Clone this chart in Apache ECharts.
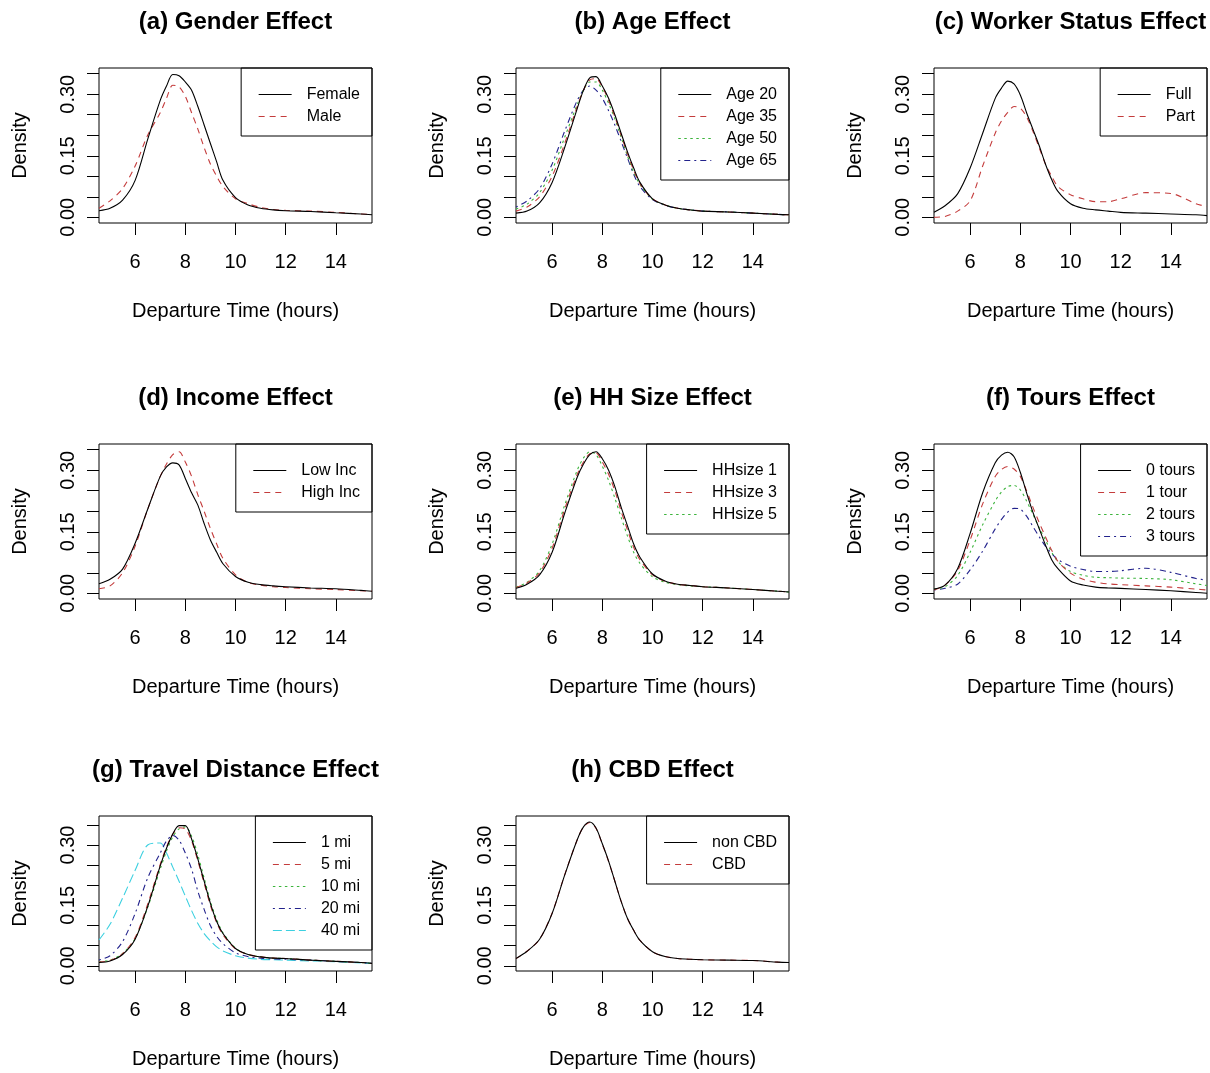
<!DOCTYPE html>
<html>
<head>
<meta charset="utf-8">
<script src="https://cdn.jsdelivr.net/npm/echarts@6/dist/echarts.min.js"></script>
<style>
html,body{margin:0;padding:0;background:#fff;}
#chart{width:1210px;height:1073px;}
</style>
</head>
<body>
<div id="chart"></div>
<script>
// ---------- data ----------
const hours = [4.56, 5, 5.5, 6, 6.5, 7, 7.25, 7.5, 7.75, 8, 8.25, 8.5, 8.75, 9, 9.25, 9.5, 10, 10.5, 11, 11.5, 12, 13, 14, 15, 15.44];
const hourTicks = [6, 8, 10, 12, 14];
const densityTicks = [0, 0.05, 0.10, 0.15, 0.20, 0.25, 0.30, 0.35];
const densityLabels = [0, 0.15, 0.30];
const panelTitles = ['(a) Gender Effect', '(b) Age Effect', '(c) Worker Status Effect', '(d) Income Effect', '(e) HH Size Effect', '(f) Tours Effect', '(g) Travel Distance Effect', '(h) CBD Effect'];
const xTitle = 'Departure Time (hours)';
const yTitle = 'Density';

// (a) gender
const genderNames = ['Female', 'Male'];
const female = [.016,.022,.042,.09,.19,.285,.32,.348,.345,.33,.31,.27,.225,.18,.135,.09,.048,.03,.022,.018,.016,.014,.011,.008,.006];
const male   = [.022,.04,.07,.125,.20,.255,.29,.322,.318,.295,.255,.215,.17,.13,.10,.075,.045,.033,.024,.019,.017,.015,.012,.008,.007];
// (b) age
const ageNames = ['Age 20', 'Age 35', 'Age 50', 'Age 65'];
const age20 = [.010,.015,.035,.085,.17,.265,.31,.34,.343,.32,.29,.25,.205,.16,.12,.085,.045,.03,.022,.018,.015,.013,.010,.007,.006];
const age35 = [.015,.025,.05,.10,.18,.27,.31,.335,.338,.318,.285,.245,.20,.155,.115,.082,.045,.03,.022,.018,.015,.013,.010,.007,.006];
const age50 = [.020,.032,.06,.115,.195,.275,.31,.33,.33,.31,.278,.24,.195,.15,.11,.08,.044,.03,.022,.018,.015,.013,.010,.007,.006];
const age65 = [.025,.04,.07,.13,.21,.285,.31,.32,.31,.29,.26,.225,.185,.145,.105,.075,.043,.029,.022,.018,.015,.013,.010,.007,.006];
// (c) worker status
const workerNames = ['Full', 'Part'];
const fullTime = [.012,.028,.057,.12,.205,.29,.315,.332,.325,.298,.255,.215,.175,.13,.092,.063,.033,.022,.018,.015,.012,.010,.008,.006,.004];
const partTime = [0,.002,.015,.04,.125,.205,.235,.256,.27,.266,.245,.21,.17,.13,.10,.075,.055,.045,.038,.038,.045,.06,.058,.033,.026];
// (d) income
const incomeNames = ['Low Inc', 'High Inc'];
const lowInc  = [.023,.034,.059,.122,.205,.285,.308,.318,.313,.28,.245,.215,.17,.13,.10,.072,.041,.027,.021,.018,.016,.013,.011,.007,.005];
const highInc = [.011,.018,.05,.115,.205,.285,.315,.338,.345,.32,.285,.24,.20,.158,.12,.085,.045,.026,.02,.016,.014,.011,.009,.006,.005];
// (e) household size
const hhNames = ['HHsize 1', 'HHsize 3', 'HHsize 5'];
const hh1 = [.012,.022,.045,.10,.195,.283,.315,.338,.345,.328,.30,.26,.21,.165,.12,.088,.047,.03,.022,.019,.016,.013,.009,.005,.003];
const hh3 = [.014,.025,.05,.11,.205,.29,.32,.34,.342,.32,.29,.25,.20,.155,.112,.082,.045,.029,.022,.019,.016,.013,.009,.005,.003];
const hh5 = [.015,.027,.055,.12,.215,.30,.33,.345,.338,.31,.275,.232,.185,.14,.10,.073,.04,.027,.021,.018,.016,.013,.009,.005,.003];
// (f) tours
const tourNames = ['0 tours', '1 tour', '2 tours', '3 tours'];
const tours0 = [.010,.020,.06,.146,.245,.318,.337,.344,.333,.295,.245,.198,.158,.118,.082,.06,.03,.02,.015,.013,.012,.009,.006,.002,0];
const tours1 = [.008,.020,.055,.13,.218,.285,.302,.309,.303,.285,.25,.21,.173,.138,.105,.078,.049,.034,.027,.023,.021,.018,.015,.010,.008];
const tours2 = [.010,.016,.043,.10,.167,.225,.247,.26,.263,.252,.225,.193,.16,.13,.10,.077,.053,.044,.039,.038,.037,.036,.033,.023,.019];
const tours3 = [.008,.012,.022,.057,.103,.157,.18,.198,.207,.205,.188,.163,.138,.115,.097,.082,.066,.058,.053,.053,.055,.061,.051,.036,.032];
// (g) travel distance
const distNames = ['1 mi', '5 mi', '10 mi', '20 mi', '40 mi'];
const dist1  = [.008,.012,.028,.066,.147,.248,.292,.327,.348,.348,.315,.265,.21,.155,.11,.08,.043,.028,.022,.019,.018,.014,.011,.008,.006];
const dist5  = [.009,.013,.03,.07,.153,.252,.295,.327,.343,.34,.31,.26,.205,.15,.107,.077,.042,.028,.022,.019,.018,.014,.011,.008,.006];
const dist10 = [.010,.014,.03,.068,.145,.24,.285,.32,.34,.345,.322,.275,.218,.16,.115,.082,.044,.028,.022,.019,.018,.014,.011,.008,.006];
const dist20 = [.014,.025,.06,.13,.218,.28,.31,.324,.312,.28,.24,.185,.14,.10,.073,.055,.032,.023,.019,.017,.016,.014,.011,.008,.006];
const dist40 = [.064,.103,.168,.237,.30,.305,.28,.245,.21,.173,.137,.105,.08,.062,.047,.037,.025,.019,.016,.015,.014,.012,.010,.007,.006];
// (h) CBD
const cbdNames = ['non CBD', 'CBD'];
const nonCbd = [.018,.036,.066,.13,.225,.313,.345,.357,.342,.303,.26,.21,.16,.118,.088,.063,.035,.023,.018,.016,.015,.014,.013,.009,.008];
const cbd    = [.018,.036,.066,.131,.226,.313,.345,.356,.341,.302,.259,.21,.16,.118,.088,.063,.035,.023,.018,.016,.015,.014,.013,.009,.008];

// ---------- build ----------
const panelNames = [genderNames, ageNames, workerNames, incomeNames, hhNames, tourNames, distNames, cbdNames];
const panelValues = [[female, male], [age20, age35, age50, age65], [fullTime, partTime], [lowInc, highInc], [hh1, hh3, hh5], [tours0, tours1, tours2, tours3], [dist1, dist5, dist10, dist20, dist40], [nonCbd, cbd]];

const FONT = '"Liberation Sans", Arial, Helvetica, sans-serif';
const colLeft = [99, 516, 934];
const rowTop = [68, 444, 816];
const plotW = 273, plotH = 155;
const rowYRange = [[-0.014, 0.364], [-0.014, 0.364], [-0.013, 0.372]];
const lineColors = ['#000000', '#c43c3c', '#3cb43c', '#22228c', '#3cd0e0'];
const lineDashes = ['solid', [6, 5], [2.5, 3.5], [2, 4, 6, 4], [9, 4]];

const grids = [], xAxes = [], yAxes = [], series = [], titles = [], legends = [];
panelTitles.forEach((t, i) => {
  const r = Math.floor(i / 3), c = i % 3;
  const left = colLeft[c], top = rowTop[r];
  grids.push({left: left, top: top, width: plotW, height: plotH, show: true, borderColor: '#000', borderWidth: 1, backgroundColor: 'transparent'});
  xAxes.push({
    type: 'value', gridIndex: i, min: 4.56, max: 15.44,
    name: xTitle, nameLocation: 'middle', nameGap: 78,
    nameTextStyle: {fontFamily: FONT, fontSize: 20, color: '#000'},
    axisLine: {show: false, onZero: false},
    axisTick: {show: true, inside: false, length: 12, lineStyle: {color: '#000', width: 1}, customValues: hourTicks},
    axisLabel: {show: true, margin: 29, fontFamily: FONT, fontSize: 20, color: '#000', customValues: hourTicks, formatter: v => String(v)},
    splitLine: {show: false}
  });
  yAxes.push({
    type: 'value', gridIndex: i, min: rowYRange[r][0], max: rowYRange[r][1],
    name: yTitle, nameLocation: 'middle', nameGap: 69,
    nameTextStyle: {fontFamily: FONT, fontSize: 20, color: '#000'},
    axisLine: {show: false, onZero: false},
    axisTick: {show: true, inside: false, length: 12, lineStyle: {color: '#000', width: 1}, customValues: densityTicks},
    axisLabel: {show: true, rotate: 90, margin: 21, fontFamily: FONT, fontSize: 20, color: '#000', customValues: densityLabels, formatter: v => v.toFixed(2)},
    splitLine: {show: false}
  });
  titles.push({
    text: t, left: left + plotW / 2, top: top - 58, textAlign: 'center', padding: 0,
    textStyle: {fontFamily: FONT, fontSize: 24, fontWeight: 'bold', color: '#000'}
  });
  const names = panelNames[i];
  names.forEach((nm, k) => {
    series.push({
      type: 'line', name: nm, xAxisIndex: i, yAxisIndex: i,
      data: hours.map((h, j) => [h, panelValues[i][k][j]]),
      symbol: 'none', showSymbol: false, smooth: 0.3, clip: true,
      lineStyle: {color: lineColors[k], width: 1.1, type: lineDashes[k]},
      itemStyle: {color: lineColors[k]},
      emphasis: {disabled: true}, silent: true, z: 10 - k
    });
  });
  legends.push({
    data: names.map((nm, k) => ({
      name: nm,
      itemStyle: {opacity: 0},
      lineStyle: {color: lineColors[k], width: 1, type: lineDashes[k], opacity: 1}
    })),
    orient: 'vertical', right: 1210 - (left + plotW), top: top,
    padding: [18.5, 12, 11.5, 17], itemGap: 6, itemWidth: 33, itemHeight: 14,
    borderColor: '#000', borderWidth: 1, borderRadius: 0, backgroundColor: 'transparent',
    selectedMode: false,
    textStyle: {fontFamily: FONT, fontSize: 16, color: '#000', padding: [0, 0, 0, 10]}
  });
});

const chart = echarts.init(document.getElementById('chart'), null, {renderer: 'canvas'});
chart.setOption({
  backgroundColor: '#fff',
  animation: false,
  title: titles,
  legend: legends,
  grid: grids,
  xAxis: xAxes,
  yAxis: yAxes,
  series: series
});
</script>
</body>
</html>
